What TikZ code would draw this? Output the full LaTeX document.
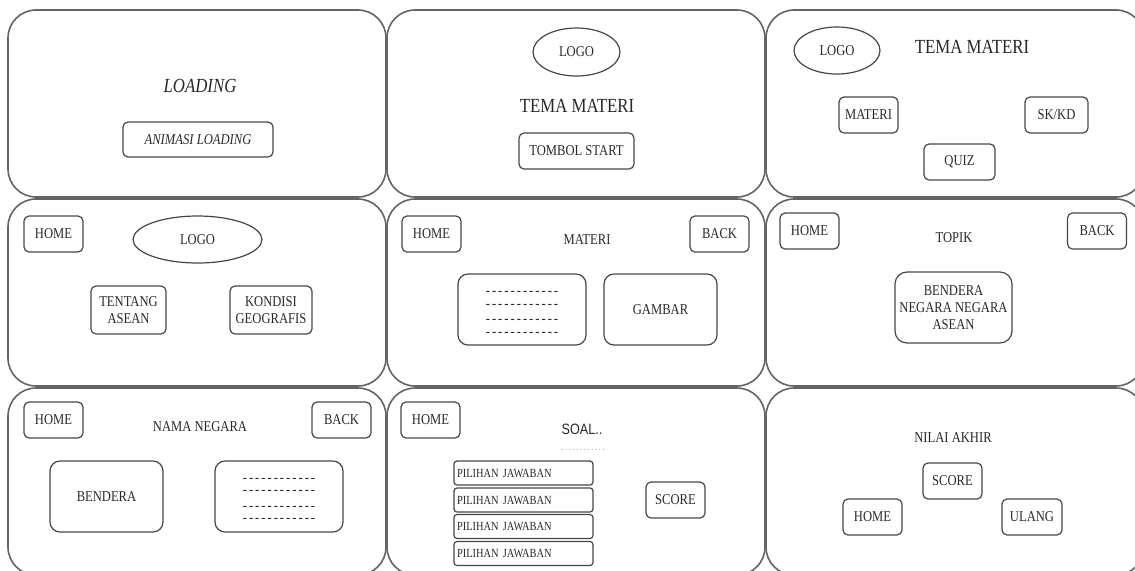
\documentclass[tikz,border=0pt]{standalone}
\usepackage{fontspec}
\setmainfont{Liberation Serif}[FakeStretch=0.84]
\newfontfamily\soalfont{Liberation Sans}[FakeStretch=0.84]
\usepackage{tikz}
\usetikzlibrary{shapes.geometric}
\definecolor{frameGray}{RGB}{100,100,100}
\definecolor{lineGray}{RGB}{70,70,70}
\definecolor{textGray}{RGB}{40,40,40}
\newcommand{\judul}{\fontsize{10}{12}\selectfont}
\newcommand{\kecil}{\fontsize{7.5}{8.5}\selectfont}
\newcommand{\isian}{-\kern1pt-\kern1pt-\kern1pt-\kern1pt-\kern1pt-\kern1pt-\kern1pt-\kern1pt-\kern1pt-\kern1pt-\kern1pt-}
\newcommand{\titik}{.\kern0.7pt.\kern0.7pt.\kern0.7pt.\kern0.7pt.\kern0.7pt.\kern0.7pt.\kern0.7pt.\kern0.7pt.\kern0.7pt.\kern0.7pt.\kern0.7pt.}

\begin{document}
\begin{tikzpicture}[x=0.5pt, y=-0.5pt,
    layar/.style={draw=frameGray, line width=0.8pt, rounded corners=14pt},
    tombol/.style={draw=lineGray, line width=0.6pt, rounded corners=2.5pt, inner sep=0pt,
      minimum width=29.5pt, minimum height=18pt, font=\kecil, text=textGray, align=center},
    kotak/.style={tombol, rounded corners=5pt, minimum width=56.5pt, minimum height=35.5pt},
    logo/.style={draw=lineGray, line width=0.6pt, ellipse, inner sep=0pt, font=\kecil, text=textGray},
    judulTeks/.style={font=\judul, text=textGray},
    label/.style={font=\kecil, text=textGray},
    isiTeks/.style={font=\kecil, text=textGray, anchor=base},
    pilihan/.style={draw=lineGray, line width=0.6pt, rounded corners=1.5pt, inner sep=1.5pt,
      text width=66.5pt, minimum height=12pt, align=left, font=\fontsize{6.2}{7}\selectfont, text=textGray}]
  \useasboundingbox (0,0) rectangle (1135,570);
  \clip (0,0) rectangle (1135,570);
  % nine screens
  \foreach \r in {0,1,2}
    \foreach \c in {0,1,2}
      \draw[layar] ({8+379*\c},{10+189*\r}) rectangle +(378,187);

  % loading
  \node[judulTeks] (loading) at (200,86) {\textit{LOADING}};
  \node[tombol, minimum width=75pt, minimum height=17.5pt] (animasi) at (198,139.5) {\textit{ANIMASI LOADING}};

  % pembuka
  \node[logo, minimum width=43.5pt, minimum height=24pt] (logoA) at (576.5,52) {LOGO};
  \node[judulTeks] (temaA) at (577,106) {TEMA MATERI};
  \node[tombol, minimum width=57.5pt] (start) at (576.5,151) {TOMBOL START};

  % menu utama
  \node[logo, minimum width=43pt, minimum height=23.5pt] (logoB) at (837,50.5) {LOGO};
  \node[judulTeks] (temaB) at (972,47) {TEMA MATERI};
  \node[tombol] (menuMateri) at (868.5,115) {MATERI};
  \node[tombol, minimum width=31.5pt] (menuSkkd) at (1056.5,115) {SK/KD};
  \node[tombol, minimum width=35.5pt] (menuQuiz) at (959.5,162) {QUIZ};

  % menu materi
  \node[tombol] (homeA) at (53.5,234) {HOME};
  \node[logo, minimum width=64.5pt, minimum height=23.5pt] (logoC) at (197.5,239.5) {LOGO};
  \node[tombol, minimum width=37.5pt, minimum height=24pt] (tentang) at (128.5,310) {TENTANG\\ASEAN};
  \node[tombol, minimum width=41pt, minimum height=24pt] (kondisi) at (271,310) {KONDISI\\GEOGRAFIS};

  % isi materi
  \node[tombol] (homeB) at (431.5,234) {HOME};
  \node[label] (judulMateri) at (587,240) {MATERI};
  \node[tombol] (backB) at (719.5,234) {BACK};
  \node[kotak, minimum width=64pt] (teksMateri) at (522,309.5) {};
  \foreach \dy [count=\i] in {-17.5,-4.5,10.5,23.5}
    \node[isiTeks] (garisM\i) at (522,{309.5+\dy+3.4}) {\isian};
  \node[kotak] (gambar) at (660.5,309.5) {GAMBAR};

  % topik
  \node[tombol] (homeC) at (809.5,231) {HOME};
  \node[label] (topik) at (954,238) {TOPIK};
  \node[tombol] (backC) at (1097,231) {BACK};
  \node[kotak, minimum width=58.5pt, rounded corners=6pt] (benderaAsean) at (953.5,307.5)
    {\fontsize{7.5}{8.5}\selectfont BENDERA\\NEGARA NEGARA\\ASEAN};

  % nama negara
  \node[tombol] (homeD) at (53.5,420) {HOME};
  \node[label] (namaNegara) at (200,427) {NAMA NEGARA};
  \node[tombol] (backD) at (341.5,420) {BACK};
  \node[kotak] (bendera) at (106.5,496.5) {BENDERA};
  \node[kotak, minimum width=64pt] (teksNegara) at (279,496.5) {};
  \foreach \dy [count=\i] in {-17.5,-5.5,10.5,22.5}
    \node[isiTeks] (garisN\i) at (279,{496.5+\dy+3.4}) {\isian};

  % quiz
  \node[tombol] (homeE) at (430.5,420) {HOME};
  \node[font=\soalfont\fontsize{7.5}{9}\selectfont, text=textGray] (soal) at (582,429) {SOAL..};
  \node[font=\soalfont\fontsize{5}{6}\selectfont, text=black!45] (titik) at (583,450) {\titik};
  \foreach \y [count=\i] in {473,500,526.5,553.5}
    \node[pilihan] (jawab\i) at (523.5,\y) {PILIHAN JAWABAN};
  \node[tombol] (scoreA) at (675.5,500) {SCORE};

  % nilai akhir
  \node[label] (nilai) at (953,438) {NILAI AKHIR};
  \node[tombol] (scoreB) at (952.5,481) {SCORE};
  \node[tombol] (homeF) at (872.5,517) {HOME};
  \node[tombol, minimum width=30pt] (ulang) at (1032,517) {ULANG};
\end{tikzpicture}
\end{document}
